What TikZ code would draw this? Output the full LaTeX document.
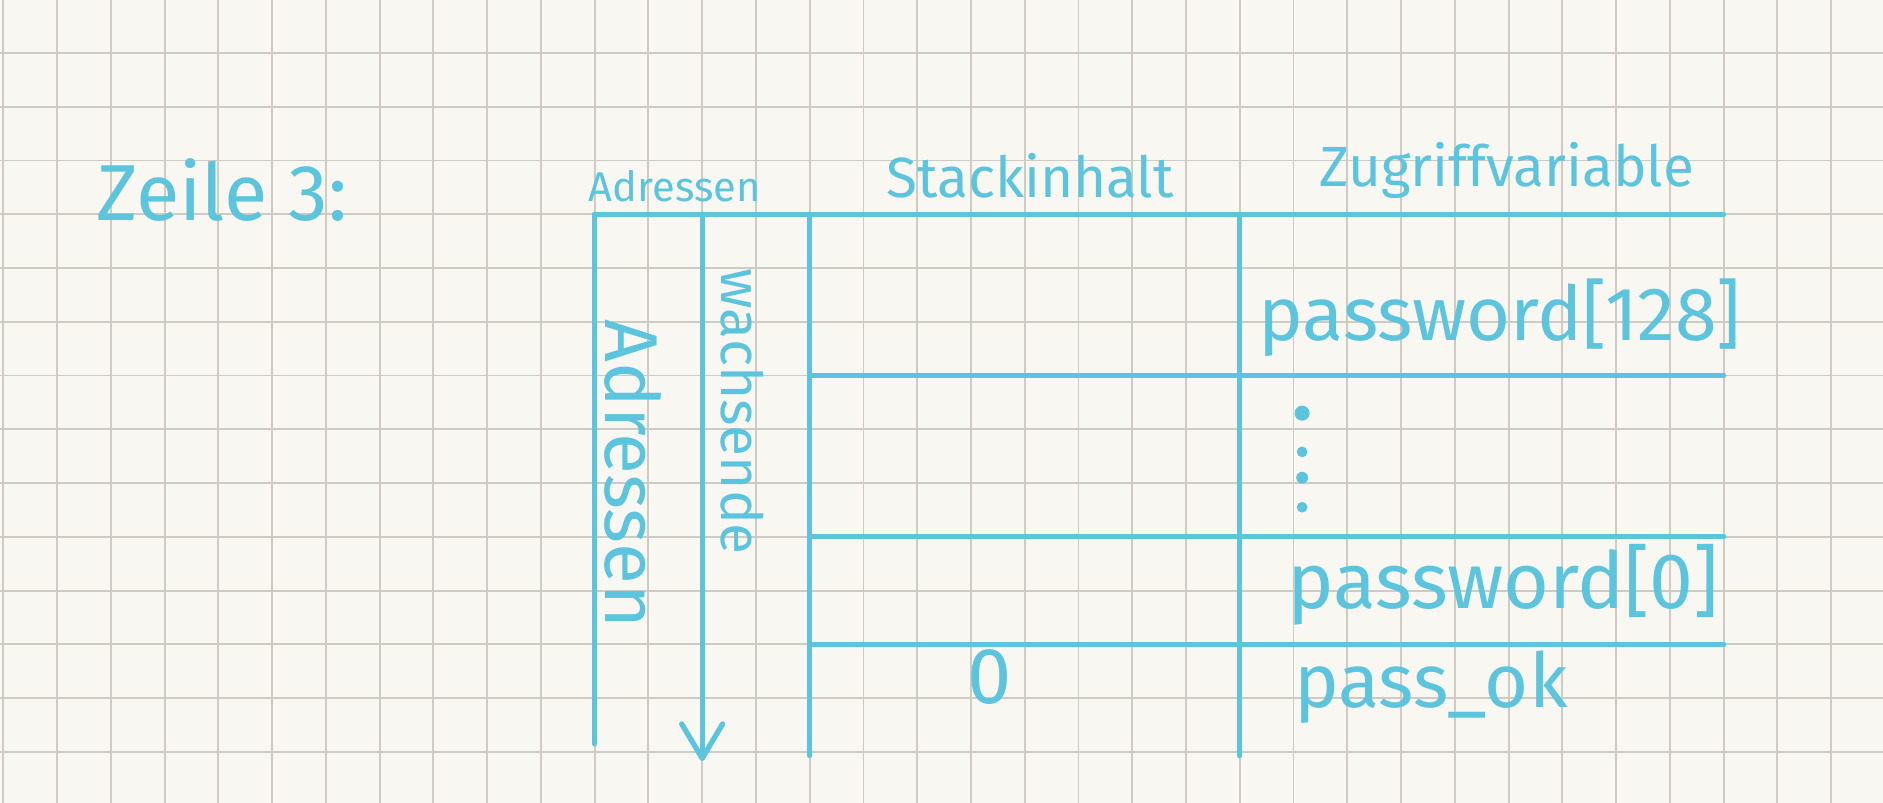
\documentclass[tikz,border=0pt]{standalone}
\usepackage{fontspec}
\setmainfont{Fira Sans}
\usetikzlibrary{arrows.meta}
\definecolor{paper}{RGB}{248,247,242}
\definecolor{gridgray}{RGB}{206,203,197}
\definecolor{ink}{RGB}{92,196,221}
\tikzset{
	inkline/.style={draw=ink, line width=1.4pt, line cap=round},
	hand/.style={text=ink, inner sep=0pt},
}
\begin{document}
\begin{tikzpicture}[x=0.5cm, y=-0.5cm, line join=round, >={Straight Barb[length=3.2mm, width=3.8mm, round]}]
			% paper
			\fill[paper] (-0.061,0.015) rectangle (34.965,14.95);
			\useasboundingbox (-0.061,0.015) rectangle (34.965,14.95);
			\foreach \i in {0,...,34} \draw[gridgray, line width=0.5pt] (\i,0.015) -- (\i,14.95);
			\foreach \j in {1,...,14} \draw[gridgray, line width=0.5pt] (-0.061,\j) -- (34.965,\j);
			% table
			\coordinate (TL) at (11,4);
			\coordinate (TR) at (32,4);
			\draw[inkline] (TL) -- (TR);
			\draw[inkline] (TL) -- (11,13.85);
			\draw[inkline, ->] (13,4) -- (13,14.17);
			\draw[inkline] (15,4) -- (15,14.07);
			\draw[inkline] (23,4) -- (23,14.07);
			\foreach \r in {7,10,12} \draw[inkline] (15,\r) -- (32,\r);
			% labels
			\node[hand, font=\fontsize{21}{24}\selectfont] (zeile) at (4.07,3.55) {Zeile 3:};
			\node[hand, font=\fontsize{11}{13}\selectfont] (adrhead) at (12.49,3.47) {Adressen};
			\node[hand, font=\fontsize{15}{18}\selectfont] (stack) at (19.1,3.29) {Stackinhalt};
			\node[hand, font=\fontsize{15}{18}\selectfont] (zugriff) at (27.97,3.18) {Zugriffvariable};
			\node[hand, rotate=-90, font=\fontsize{19.8}{22}\selectfont] (adressen) at (11.71,8.83) {Adressen};
			\node[hand, rotate=-90, font=\fontsize{15}{18}\selectfont] (wachsende) at (13.74,7.67) {wachsende};
			\node[hand, font=\fontsize{20}{23}\selectfont] (pw128) at (27.84,5.93) {password[128]};
			\node[hand, font=\fontsize{20.8}{23}\selectfont] (pw0) at (27.9,10.9) {password[0]};
			\node[hand, anchor=base west, font=\fontsize{20}{23}\selectfont] (passok) at (24.0,13.17) {pass\_ok};
			\node[hand, font=\fontsize{21}{24}\selectfont] (null) at (18.35,12.6) {0};
			% dots
			\foreach \d/\s in {7.7/0.14, 8.42/0.1, 8.9/0.11, 9.45/0.1} \fill[ink] (24.16,\d) circle (\s);
\end{tikzpicture}
\end{document}
